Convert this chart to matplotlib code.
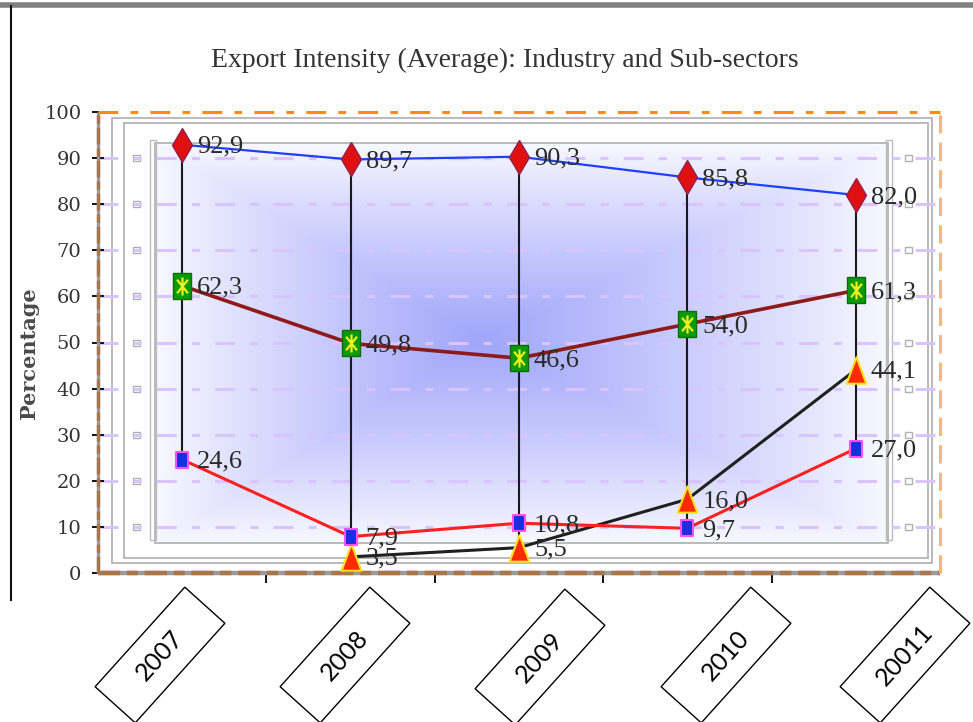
import numpy as np
import matplotlib
matplotlib.use("Agg")
import matplotlib.pyplot as plt
from matplotlib import transforms
from matplotlib.patches import Rectangle
from matplotlib.path import Path

# export intensity by year, one list per series
years = ['2007', '2008', '2009', '2010', '20011']
industry = [92.9, 89.7, 90.3, 85.8, 82.0]
sub_sector_1 = [62.3, 49.8, 46.6, 54.0, 61.3]
sub_sector_2 = [np.nan, 3.5, 5.5, 16.0, 44.1]
sub_sector_3 = [24.6, 7.9, 10.8, 9.7, 27.0]
y_ticks = list(range(0, 101, 10))

W, H, DPI = 973, 722, 100
fig = plt.figure(figsize=(W / DPI, H / DPI), dpi=DPI)
ax = fig.add_axes([98 / W, 1 - 573 / H, (940 - 98) / W, (573 - 112) / H])
ax.set_facecolor('white')

# pixel coordinates measured from the top-left corner of the figure
pix = transforms.Affine2D().scale(1 / DPI, -1 / DPI).translate(0, H / DPI) + fig.dpi_scale_trans

# tall marker shapes
tall_square = Path([(-0.7, -1), (0.7, -1), (0.7, 1), (-0.7, 1), (-0.7, -1)],
                   [Path.MOVETO, Path.LINETO, Path.LINETO, Path.LINETO, Path.CLOSEPOLY])
tall_triangle = Path([(0, 1), (-0.75, -1), (0.75, -1), (0, 1)],
                     [Path.MOVETO, Path.LINETO, Path.LINETO, Path.CLOSEPOLY])
star_x = Path([(0, -1), (0, 1), (-0.6, -0.75), (0.6, 0.75), (-0.6, 0.75), (0.6, -0.75)],
              [Path.MOVETO, Path.LINETO, Path.MOVETO, Path.LINETO, Path.MOVETO, Path.LINETO])

# blue rectangular gradient behind the plot
gx0, gx1, gy0, gy1 = 155, 888, 143, 543
cx, cy = 480, 340
xs = np.linspace(gx0, gx1, 500)
ys = np.linspace(gy0, gy1, 300)
X, Y = np.meshgrid(xs, ys)
u = np.where(X < cx, (cx - X) / (cx - gx0), (X - cx) / (gx1 - cx))
v = np.where(Y < cy, (cy - Y) / (cy - gy0), (Y - cy) / (gy1 - cy))
s = (1 - np.maximum(u, v)) ** 0.9
centre = np.array([0.63, 0.65, 0.98])
edge = np.array([0.975, 0.975, 1.0])
img = edge + (centre - edge) * s[..., None]
ax.imshow(img, extent=[gx0, gx1, gy1, gy0], transform=pix, aspect='auto',
          interpolation='bilinear', zorder=0.3)

# decorative frames
frame_kw = dict(fill=False, ec='#b4b4b4', lw=1.3, transform=pix, clip_on=False, zorder=0.6)
ax.add_patch(Rectangle((112, 118), 932 - 112, 563 - 118, **frame_kw))
ax.add_patch(Rectangle((124, 123), 928 - 124, 558 - 123, **frame_kw))
ax.add_patch(Rectangle((gx0, gy0), gx1 - gx0, gy1 - gy0, **frame_kw))
for bx in (150, 886):
    ax.add_patch(Rectangle((bx, 140), 6, 400, fill=False, ec='#bcbcbc', lw=1.0,
                           transform=pix, clip_on=False, zorder=0.6))
for yv in y_ticks[1:-1]:
    yp = 573 - yv * 4.61
    for sx in (133, 905):
        ax.add_patch(Rectangle((sx, yp - 3), 7, 6, fill=False, ec='#b0b0b0', lw=1.0,
                               transform=pix, clip_on=False, zorder=0.6))

# dashed lavender gridlines
for yv in y_ticks[1:-1]:
    ax.axhline(yv, color='#d9c4ff', lw=2.2, ls=(0, (6.5, 5, 2.6, 5)), zorder=0.8)

x = np.arange(len(years))
allv = np.array([industry, sub_sector_1, sub_sector_2, sub_sector_3])
ax.vlines(x, np.nanmin(allv, axis=0), np.nanmax(allv, axis=0), color='#1a1a1a', lw=1.5, zorder=1)

ax.plot(x, industry, color='#2040ff', lw=1.6, marker='d', ms=17, mfc='#e01010',
        mec='#902050', mew=1, zorder=3)
ax.plot(x, sub_sector_1, color='#8e1a1a', lw=2.6, marker=tall_square, ms=19, mfc='#0a9a0a',
        mec='#077007', mew=1, zorder=3)
ax.plot(x, sub_sector_1, ls='none', marker=star_x, ms=13, mfc='none', mec='#f0f020',
        mew=1.6, zorder=4)
ax.plot(x, sub_sector_2, color='#202020', lw=2.2, marker=tall_triangle, ms=19, mfc='#ff2a00',
        mec='#ffe020', mew=1.5, zorder=3)
ax.plot(x, sub_sector_3, color='#ff2020', lw=2.2, marker=tall_square, ms=12, mfc='#1530e0',
        mec='#ff50ff', mew=1.5, zorder=3)

# value labels with comma decimals
for series in (industry, sub_sector_1, sub_sector_2, sub_sector_3):
    for xi, val in zip(x, series):
        if np.isnan(val):
            continue
        ax.annotate(f'{val:.1f}'.replace('.', ','), (xi, val), xytext=(15, -2),
                    textcoords='offset pixels', ha='left', va='center',
                    family='Liberation Serif', fontsize=19, color='#2a2a2a', zorder=5)

ax.set_xlim(-0.5, 4.5)
ax.set_ylim(0, 100)
ax.set_yticks(y_ticks)
ax.set_yticklabels([str(t) for t in y_ticks], family='DejaVu Serif', fontsize=14, color='#333333')
ax.tick_params(axis='y', direction='inout', length=8, width=1.4, color='#111111', pad=8)
ax.set_xticks([])
ax.set_xticks([0.5, 1.5, 2.5, 3.5], minor=True)
ax.tick_params(axis='x', which='minor', direction='out', length=7, width=1.4, color='#111111')
for sp in ax.spines.values():
    sp.set_visible(False)

# axis lines drawn by hand: brown/grey dashes left and bottom, orange top and right
line_kw = dict(transform=ax.transAxes, clip_on=False, zorder=2, solid_capstyle='butt')
ax.plot([0, 1], [0, 0], color='#9a9a9a', lw=3.2, **line_kw)
ax.plot([0, 1], [0, 0], color='#a8764c', lw=3.2, ls=(0, (5, 1.5, 2.5, 1.5)), **line_kw)
ax.plot([0, 0], [0, 1], color='#9a9a9a', lw=2.4, **line_kw)
ax.plot([0, 0], [0, 1], color='#a8764c', lw=2.4, ls=(0, (5, 1.2, 2.5, 1.2)), **line_kw)
ax.plot([0, 1], [1, 1], color='#ff8a10', lw=2.2, ls=(0, (6.5, 4, 2.5, 4)), **line_kw)
ax.plot([1, 1], [0, 1], color='#ffb47a', lw=2.2, ls=(0, (6, 3)), **line_kw)

fig.text(505 / W, 1 - 60 / H, 'Export Intensity (Average): Industry and Sub-sectors',
         ha='center', va='center', family='Liberation Serif', fontsize=20, color='#333333')
fig.text(29 / W, 1 - 353 / H, 'Percentage', rotation=90, ha='center', va='center',
         family='DejaVu Serif', fontsize=15, fontweight='bold', color='#4a4a4a')

# year labels in rotated boxes
label_pos = [(160, 655), (345, 655), (540, 657), (726, 655), (905, 655)]
for (lx, ly), yr in zip(label_pos, years):
    bw, bh = 134, 54
    ax.add_patch(Rectangle((lx - bw / 2, ly - bh / 2), bw, bh, angle=-48, rotation_point='center',
                           fc='white', ec='black', lw=1.0, transform=pix, clip_on=False, zorder=6))
    ax.text(lx, ly, yr, transform=pix, rotation=48, rotation_mode='anchor', ha='center',
            va='center', family='Lato', fontsize=18, color='black', clip_on=False, zorder=7)

# picture border: grey top band and black left edge
fig.add_artist(plt.Line2D([0, W], [5, 5], transform=pix, color='#808080', lw=4))
fig.add_artist(plt.Line2D([11, 11], [6, 600], transform=pix, color='#111111', lw=1.5))

fig.savefig('out.png', dpi=DPI)
